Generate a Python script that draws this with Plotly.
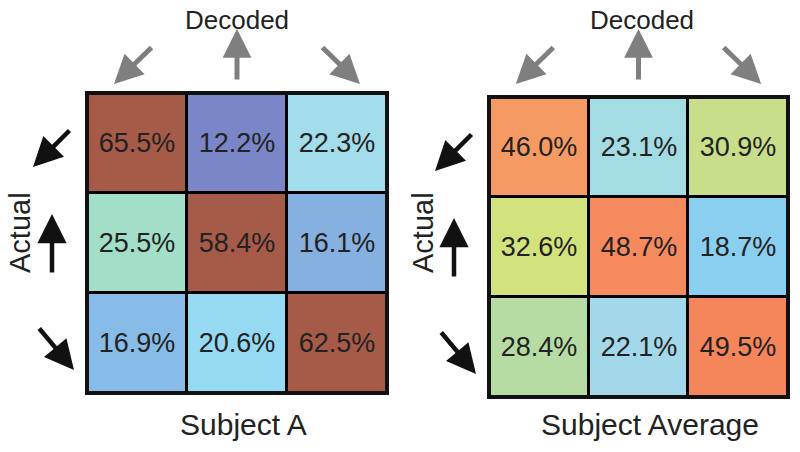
import plotly.graph_objects as go

# Data
cols = ["SW", "N", "SE"]
rows = ["SW", "N", "SE"]
subject_a = [[65.5, 12.2, 22.3],
             [25.5, 58.4, 16.1],
             [16.9, 20.6, 62.5]]
subject_avg = [[46.0, 23.1, 30.9],
               [32.6, 48.7, 18.7],
               [28.4, 22.1, 49.5]]
titles = ["Subject A", "Subject Average"]

# Style: colour anchors (value -> colour) for each panel's colour scale
colors_a = {12.2: "#7A86C8", 16.1: "#86B0E0", 16.9: "#88BCE8", 20.6: "#95D9F3",
            22.3: "#A3DCEA", 25.5: "#A3DEC8", 58.4: "#A65A48", 62.5: "#A65A48",
            65.5: "#A65A48"}
colors_avg = {18.7: "#8ACEF0", 22.1: "#A3D8EA", 23.1: "#A3DCE2", 28.4: "#B6DCA4",
              30.9: "#C8DE8A", 32.6: "#D2E27C", 46.0: "#F59A62", 48.7: "#F58A5E",
              49.5: "#F5855A"}


def make_scale(z, cmap):
    vals = sorted(v for r in z for v in r)
    lo, hi = vals[0], vals[-1]
    return [[(v - lo) / (hi - lo), cmap[v]] for v in vals], lo, hi


W, H = 800, 452
FONT = "Liberation Sans, Arial, sans-serif"
TXT = "#222222"

panels = [
    dict(z=subject_a, cmap=colors_a, box=(87, 93, 387, 393), xa="x", ya="y",
         title_x=243, dec_x=236.5, act_x=20),
    dict(z=subject_avg, cmap=colors_avg, box=(489, 97, 788, 397), xa="x2", ya="y2",
         title_x=650, dec_x=641.5, act_x=423),
]

fig = go.Figure()
layout = dict(width=W, height=H, margin=dict(l=0, r=0, t=0, b=0),
              paper_bgcolor="white", plot_bgcolor="black", showlegend=False)
shapes, annotations = [], []


def px(x):
    return x / W


def py(y):
    return 1 - y / H


def label(x, y, text, size, angle=0):
    annotations.append(dict(x=px(x), y=py(y), xref="paper", yref="paper", text=text,
                            xanchor="center", yanchor="middle", textangle=angle,
                            showarrow=False, font=dict(size=size, family=FONT, color=TXT)))


def arrow(tx, ty, ax, ay, color, width, size):
    annotations.append(dict(x=px(tx), y=py(ty), xref="paper", yref="paper", text="",
                            showarrow=True, ax=ax, ay=ay, arrowhead=2, arrowsize=size,
                            arrowwidth=width, arrowcolor=color, standoff=0))


for i, p in enumerate(panels):
    scale, lo, hi = make_scale(p["z"], p["cmap"])
    fig.add_trace(go.Heatmap(
        z=p["z"], x=[0, 1, 2], y=[0, 1, 2], colorscale=scale, zmin=lo, zmax=hi,
        showscale=False, xgap=3, ygap=3, xaxis=p["xa"], yaxis=p["ya"],
        texttemplate="%{z:.1f}%", textfont=dict(size=27, color=TXT, family=FONT),
        hoverinfo="skip"))
    x0, y0, x1, y1 = p["box"]
    suffix = "" if i == 0 else "2"
    layout["xaxis" + suffix] = dict(domain=[px(x0), px(x1)], range=[-0.5, 2.5],
                                    visible=False, anchor="y" + suffix)
    layout["yaxis" + suffix] = dict(domain=[py(y1), py(y0)], range=[2.5, -0.5],
                                    visible=False, anchor="x" + suffix)
    shapes.append(dict(type="rect", xref=p["xa"] + " domain", yref=p["ya"] + " domain",
                       x0=0, x1=1, y0=0, y1=1, line=dict(color="#111111", width=4)))
    label(p["dec_x"], 20, "Decoded", 26)
    label(p["act_x"], 233, "Actual", 29, angle=-90)
    label(p["title_x"], 424, titles[i], 30)
    # top grey arrows (tip position, tail offset in px)
    cw = (x1 - x0) / 3
    gx = [x0 + cw * 0.5, x0 + cw * 1.5, x0 + cw * 2.5]
    top = [((gx[0] - 23, 84), (39, -38)), ((gx[1], 29), (0, 52)), ((gx[2] + 23, 84), (-39, -38))]
    for (tx, ty), (ax, ay) in top:
        arrow(tx, ty, ax, ay, "#7F7F7F", 5, 1.15)
    # left black arrows
    ch = (y1 - y0) / 3
    left = [((x0 - 54, y0 + ch * 0.5 + 24), (38, -38)),
            ((x0 - 35, y0 + ch * 1.5 - 29), (0, 60)),
            ((x0 - 13, y0 + ch * 2.5 + 27), (-36, -43))]
    for (tx, ty), (ax, ay) in left:
        arrow(tx, ty, ax, ay, "#111111", 4.5, 1.3)

layout["shapes"] = shapes
layout["annotations"] = annotations
fig.update_layout(**layout)
fig.write_html("out.html", config={"displayModeBar": False, "staticPlot": True},
               post_script="document.body.style.margin='0';")
